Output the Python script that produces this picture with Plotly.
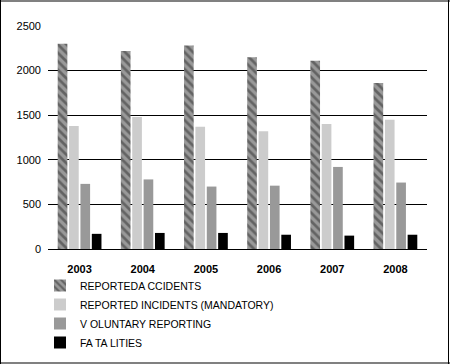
import plotly.graph_objects as go

years = ["2003", "2004", "2005", "2006", "2007", "2008"]
accidents = [2300, 2220, 2280, 2150, 2110, 1860]
incidents = [1380, 1480, 1370, 1320, 1400, 1450]
voluntary = [730, 780, 700, 710, 920, 745]
fatalities = [170, 180, 180, 160, 150, 160]
y_ticks = [0, 500, 1000, 1500, 2000, 2500]

W, H = 450, 364
L, R, T, B = 48, 23, 26, 115
pw, ph = W - L - R, H - T - B

def px(x):
    return (x - L) / pw

def py(y):
    return (H - B - y) / ph

fig = go.Figure()
fig.add_bar(x=years, y=accidents, name="REPORTEDA CCIDENTS",
            marker=dict(color="#999999", line=dict(width=0),
                        pattern=dict(shape="\\", fgcolor="#2e2e2e", bgcolor="#999999",
                                     size=6, solidity=0.45)))
fig.add_bar(x=years, y=incidents, name="REPORTED INCIDENTS (MANDATORY)",
            marker=dict(color="#cccccc", line=dict(width=0)))
fig.add_bar(x=years, y=voluntary, name="V OLUNTARY REPORTING",
            marker=dict(color="#999999", line=dict(width=0)))
fig.add_bar(x=years, y=fatalities, name="FA TA LITIES",
            marker=dict(color="#000000", line=dict(width=0)))

shapes = [
    dict(type="line", xref="paper", yref="paper", x0=px(0), x1=px(W), y0=py(1), y1=py(1),
         line=dict(color="#808080", width=2)),
    dict(type="line", xref="paper", yref="paper", x0=px(0), x1=px(W), y0=py(H - 1), y1=py(H - 1),
         line=dict(color="#808080", width=2)),
    dict(type="line", xref="paper", yref="paper", x0=px(0.5), x1=px(0.5), y0=py(0), y1=py(H),
         line=dict(color="#000000", width=1)),
    dict(type="line", xref="paper", yref="paper", x0=px(448.5), x1=px(448.5), y0=py(0), y1=py(H),
         line=dict(color="#000000", width=1)),
]

fig.update_layout(
    width=W, height=H,
    margin=dict(l=L, r=R, t=T, b=B, pad=0, autoexpand=False),
    paper_bgcolor="white", plot_bgcolor="white",
    barmode="group", bargap=0.28, bargroupgap=0.15,
    font=dict(family="Liberation Sans, Arial", size=11, color="black"),
    xaxis=dict(showline=False, showgrid=False, ticks="", automargin=False, ticklabelstandoff=12,
               tickfont=dict(family="Liberation Sans, Arial", size=11, color="black", weight="bold")),
    yaxis=dict(range=[0, 2500], tickvals=y_ticks, showgrid=True, gridcolor="black", gridwidth=1,
               zeroline=True, zerolinecolor="black", zerolinewidth=1, showline=False, automargin=False,
               ticks="", ticklen=0, ticklabelstandoff=6, tickfont=dict(size=11)),
    legend=dict(orientation="v", x=px(40), y=py(271), xanchor="left", yanchor="top",
                font=dict(size=10.5), traceorder="normal", tracegroupgap=0,
                itemwidth=30, bgcolor="rgba(0,0,0,0)"),
    showlegend=True,
    shapes=shapes,
)

fig.write_html("out.html", config={"displayModeBar": False},
               post_script="document.body.style.margin='0';document.body.style.padding='0';")
